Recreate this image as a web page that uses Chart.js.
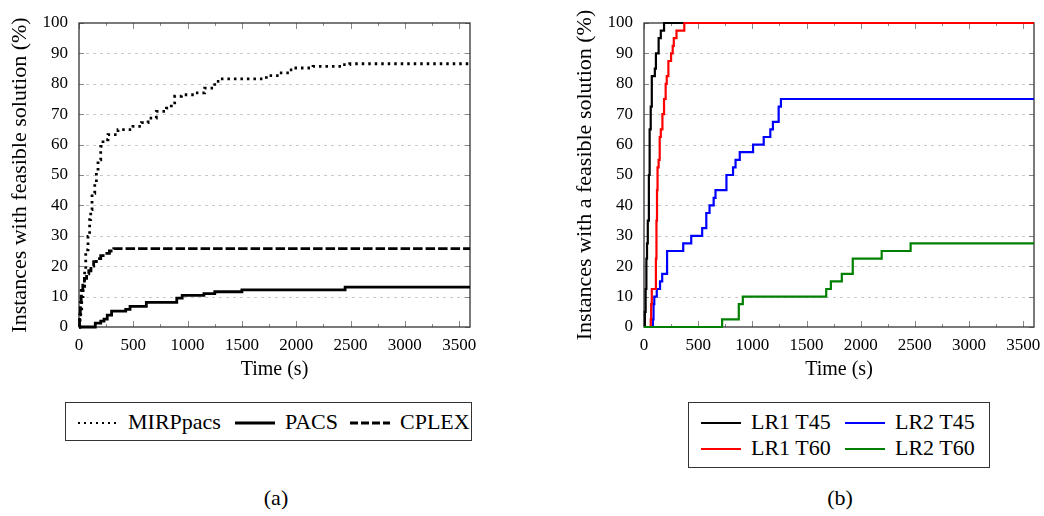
<!DOCTYPE html>
<html>
<head>
<meta charset="utf-8">
<script src="https://cdn.jsdelivr.net/npm/chart.js@4.4.1/dist/chart.umd.min.js"></script>
<style>
  body { margin: 0; background: #fff; font-family: "Liberation Serif", "Times New Roman", serif; }
  #wrap { position: relative; width: 1044px; height: 516px; overflow: hidden; }
  canvas { position: absolute; top: 0; }
  .box { position: absolute; border: 1.5px solid #333; box-sizing: border-box; background: #fff; }
  .item { position: absolute; font-size: 22px; line-height: 22px; white-space: nowrap; color: #000; }
  .box svg { position: absolute; }
  .cap { position: absolute; font-size: 22px; line-height: 22px; transform: translateX(-50%); }
</style>
</head>
<body>
<div id="wrap">
  <canvas id="chartA" width="522" height="390" style="left:0px"></canvas>
  <canvas id="chartB" width="479" height="390" style="left:565px"></canvas>

  <div class="box" style="left:65px; top:402px; width:407px; height:39px;">
    <svg style="left:12px; top:17px" width="40" height="6"><line x1="0" y1="3" x2="40" y2="3" stroke="#000" stroke-width="2" stroke-dasharray="2 4"/></svg>
    <div class="item" style="left:62px; top:8px">MIRPpacs</div>
    <svg style="left:169px; top:17px" width="40" height="6"><line x1="0" y1="3" x2="40" y2="3" stroke="#000" stroke-width="3"/></svg>
    <div class="item" style="left:219px; top:8px">PACS</div>
    <svg style="left:284px; top:17px" width="40" height="6"><line x1="0" y1="3" x2="40" y2="3" stroke="#000" stroke-width="3" stroke-dasharray="8 3"/></svg>
    <div class="item" style="left:334px; top:8px">CPLEX</div>
  </div>

  <div class="box" style="left:688px; top:402px; width:302px; height:66px;">
    <svg style="left:12px; top:17px" width="40" height="6"><line x1="0" y1="3" x2="40" y2="3" stroke="#000" stroke-width="2"/></svg>
    <div class="item" style="left:62px; top:8px">LR1 T45</div>
    <svg style="left:156px; top:17px" width="40" height="6"><line x1="0" y1="3" x2="40" y2="3" stroke="#0000ff" stroke-width="2"/></svg>
    <div class="item" style="left:206px; top:8px">LR2 T45</div>
    <svg style="left:12px; top:43px" width="40" height="6"><line x1="0" y1="3" x2="40" y2="3" stroke="#ff0000" stroke-width="2"/></svg>
    <div class="item" style="left:62px; top:34px">LR1 T60</div>
    <svg style="left:156px; top:43px" width="40" height="6"><line x1="0" y1="3" x2="40" y2="3" stroke="#008000" stroke-width="2"/></svg>
    <div class="item" style="left:206px; top:34px">LR2 T60</div>
  </div>

  <div class="cap" style="left:276px; top:487px">(a)</div>
  <div class="cap" style="left:840px; top:487px">(b)</div>
</div>

<script>
// (a) time in seconds, share of instances in %
const mirpTime = [0, 10, 16, 25, 37, 52, 62, 83, 98, 108, 120, 145, 160, 175, 200, 221, 267, 359, 497, 574, 636, 712, 805, 850, 881, 943, 1065, 1157, 1250, 1296, 1725, 1848, 1940, 1971, 2155, 2431, 2493, 3600];
const mirpVal  = [0, 3, 6, 10, 13.4, 18.8, 25.4, 29.8, 35.3, 38.6, 44, 47.4, 50.7, 55, 59.4, 61.6, 63.3, 64.9, 66, 67.2, 68.7, 70.9, 72, 73.7, 75.9, 76.4, 77, 78.6, 80.8, 81.6, 82.7, 83.6, 84.6, 85.2, 85.7, 86.3, 86.6, 86.6];

const pacsTime = [0, 150, 200, 230, 260, 300, 430, 470, 620, 900, 950, 1150, 1250, 1500, 2450, 3600];
const pacsVal  = [0, 1.3, 1.9, 2.6, 3.9, 5.2, 5.8, 6.8, 8.1, 9.5, 10.4, 11, 11.6, 12.2, 13.1, 13.1];

const cplexTime = [0, 5, 12, 20, 35, 50, 70, 90, 110, 135, 160, 200, 240, 280, 320, 3600];
const cplexVal  = [0, 4, 8, 12, 14.5, 16, 17.5, 18.5, 20, 21.5, 22.5, 23.5, 24.2, 25, 25.8, 25.8];

// (b)
const lr1t45Time = [0, 8, 15, 22, 28, 35, 45, 52, 62, 72, 100, 110, 135, 155, 185, 3600];
const lr1t45Val  = [0, 5, 12.5, 22.5, 27.5, 35, 50, 65, 72.5, 82.5, 85, 90, 95, 97.5, 100, 100];

const lr1t60Time = [0, 62, 66, 72, 110, 115, 120, 125, 135, 145, 155, 170, 185, 200, 210, 225, 250, 265, 275, 300, 372, 3600];
const lr1t60Val  = [0, 2.5, 7.5, 12.5, 22.5, 35, 45, 52.5, 55, 62.5, 65, 70, 75, 80, 82.5, 87.5, 90, 92.5, 95, 97.5, 100, 100];

const lr2t45Time = [0, 82, 88, 95, 118, 148, 168, 213, 362, 436, 537, 575, 605, 643, 660, 761, 822, 845, 884, 1007, 1105, 1166, 1190, 1243, 1264, 3600];
const lr2t45Val  = [0, 2.5, 7.5, 10, 12.5, 15, 17.5, 25, 27.5, 30, 32.5, 37.5, 40, 42.5, 45, 50, 52.5, 55, 57.5, 60, 62.5, 65, 67.5, 72.5, 75, 75];

const lr2t60Time = [0, 721, 875, 900, 912, 1682, 1725, 1826, 1927, 2194, 2461, 3600];
const lr2t60Val  = [0, 2.5, 7.5, 7.5, 10, 12.5, 15, 17.5, 22.5, 25, 27.5, 27.5];

// tick marks every 250 s, labels every 500 s; 3600 closes the axis without a label
const xTicks = [0, 250, 500, 750, 1000, 1250, 1500, 1750, 2000, 2250, 2500, 2750, 3000, 3250, 3500, 3600];
const xTickLabels = [0, 500, 1000, 1500, 2000, 2500, 3000, 3500];

const pts = (ts, vs) => ts.map((t, i) => ({x: t, y: vs[i]}));

Chart.defaults.font.family = '"Liberation Serif", "Times New Roman", serif';
Chart.defaults.color = '#000';

const frame = {
  id: 'frame',
  beforeDatasetsDraw(chart) {
    const {ctx, chartArea: a, scales: {x, y}} = chart;
    ctx.save();
    // dashed horizontal grid
    ctx.strokeStyle = '#c8c8c8';
    ctx.lineWidth = 1;
    ctx.setLineDash([3, 4]);
    y.ticks.forEach(t => {
      if (t.value <= 0 || t.value >= 100) return;
      const py = Math.round(y.getPixelForValue(t.value)) + 0.5;
      ctx.beginPath(); ctx.moveTo(a.left, py); ctx.lineTo(a.right, py); ctx.stroke();
    });
    ctx.setLineDash([]);
    // inward tick marks
    ctx.strokeStyle = '#888';
    x.ticks.forEach(t => {
      if (t.value % 250 !== 0) return;
      const px = Math.round(x.getPixelForValue(t.value)) + 0.5;
      const len = t.value % 500 === 0 ? 6 : 3;
      ctx.beginPath();
      ctx.moveTo(px, a.bottom); ctx.lineTo(px, a.bottom - len);
      ctx.moveTo(px, a.top); ctx.lineTo(px, a.top + len);
      ctx.stroke();
    });
    y.ticks.forEach(t => {
      const py = Math.round(y.getPixelForValue(t.value)) + 0.5;
      ctx.beginPath();
      ctx.moveTo(a.left, py); ctx.lineTo(a.left + 5, py);
      ctx.moveTo(a.right, py); ctx.lineTo(a.right - 5, py);
      ctx.stroke();
    });
    // box
    ctx.strokeStyle = '#333';
    ctx.lineWidth = 1.3;
    ctx.strokeRect(a.left, a.top, a.right - a.left, a.bottom - a.top);
    ctx.restore();
  }
};

function makeOptions(yTitle, padRight) {
  return {
    responsive: false,
    animation: false,
    layout: {padding: {top: 23, right: padRight, left: 0, bottom: 0}},
    plugins: {legend: {display: false}, tooltip: {enabled: false}},
    elements: {point: {radius: 0}, line: {tension: 0, borderCapStyle: 'butt'}},
    scales: {
      x: {
        type: 'linear', min: 0, max: 3600,
        grid: {display: false, drawTicks: false},
        border: {display: false},
        afterBuildTicks: s => { s.ticks = xTicks.map(v => ({value: v})); },
        ticks: {
          autoSkip: false, maxRotation: 0, padding: 8,
          font: {size: 17}, color: '#000',
          callback: v => xTickLabels.includes(v) ? String(v) : ''
        },
        title: {display: true, text: 'Time (s)', font: {size: 20}, color: '#000', padding: {top: 0, bottom: 8}},
        afterFit: s => { s.height = 63; }
      },
      y: {
        min: 0, max: 100,
        grid: {display: false, drawTicks: false},
        border: {display: false},
        ticks: {stepSize: 10, padding: 11, font: {size: 17}, color: '#000'},
        title: {display: true, text: yTitle, font: {size: 22}, color: '#000', padding: {top: 7, bottom: 0}},
        afterFit: s => { s.width = 79; }
      }
    }
  };
}

new Chart(document.getElementById('chartA'), {
  type: 'line',
  data: {
    datasets: [
      {label: 'MIRPpacs', data: pts(mirpTime, mirpVal), stepped: true, clip: 3, borderColor: '#000', borderWidth: 2.8, borderDash: [2.5, 4]},
      {label: 'PACS', data: pts(pacsTime, pacsVal), stepped: true, clip: 3, borderColor: '#000', borderWidth: 2.8},
      {label: 'CPLEX', data: pts(cplexTime, cplexVal), stepped: true, clip: 3, borderColor: '#000', borderWidth: 2.8, borderDash: [9.5, 3]}
    ]
  },
  options: makeOptions('Instances with feasible solution (%)', 52),
  plugins: [frame]
});

new Chart(document.getElementById('chartB'), {
  type: 'line',
  data: {
    datasets: [
      {label: 'LR1 T45', data: pts(lr1t45Time, lr1t45Val), stepped: true, clip: 3, borderColor: '#000000', borderWidth: 2.2, order: 3},
      {label: 'LR1 T60', data: pts(lr1t60Time, lr1t60Val), stepped: true, clip: 3, borderColor: '#ff0000', borderWidth: 2.2, order: 1},
      {label: 'LR2 T45', data: pts(lr2t45Time, lr2t45Val), stepped: true, clip: 3, borderColor: '#0000ff', borderWidth: 2.2, order: 2},
      {label: 'LR2 T60', data: pts(lr2t60Time, lr2t60Val), stepped: true, clip: 3, borderColor: '#008000', borderWidth: 2.2, order: 0}
    ]
  },
  options: makeOptions('Instances with a feasible solution (%)', 10),
  plugins: [frame]
});
</script>
</body>
</html>
